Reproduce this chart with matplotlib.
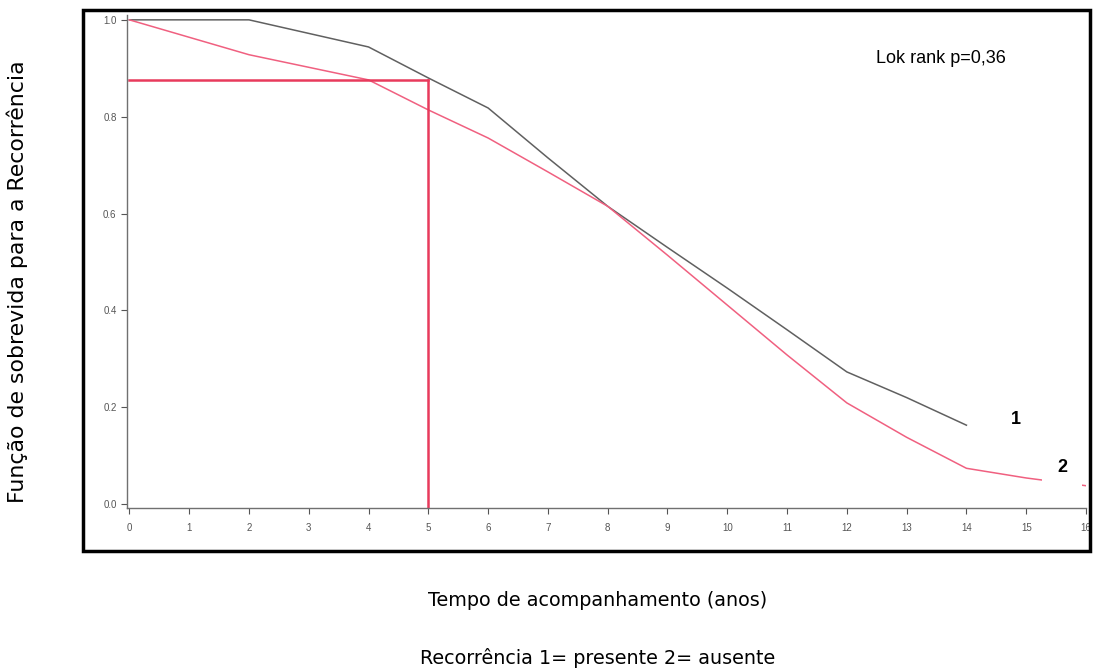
import numpy as np
import matplotlib.pyplot as plt
from matplotlib.patches import Rectangle

plt.rcParams['font.family'] = ['Liberation Sans', 'DejaVu Sans']

# Dados
tempo1 = [0, 2, 4, 5, 6, 7, 8, 9, 10, 11, 12, 13, 14]
sobrev1 = [1.0, 1.0, 0.944, 0.88, 0.818, 0.715, 0.615, 0.53, 0.446, 0.36, 0.273, 0.22, 0.163]

tempo2 = [0, 2, 4, 5, 6, 7, 8, 9, 10, 11, 12, 13, 14, 15, 16]
sobrev2 = [1.0, 0.928, 0.876, 0.814, 0.756, 0.686, 0.615, 0.514, 0.411, 0.308, 0.209, 0.138, 0.074, 0.054, 0.038]

mediana_x = 5
mediana_y = 0.875

xticks = np.arange(0, 17)
yticks = [0.0, 0.2, 0.4, 0.6, 0.8, 1.0]

fig = plt.figure(figsize=(10.96, 6.68), dpi=100)
ax = fig.add_axes([127/1096, 160/668, (1086-127)/1096, (508-15)/668])

cinza = '#707070'
vermelho = '#e83a5c'

ax.plot(tempo1, sobrev1, color='#606060', lw=1.1)
ax.plot(tempo2, sobrev2, color='#f06080', lw=1.1)

# linhas de referência
ax.plot([0, mediana_x], [mediana_y, mediana_y], color=vermelho, lw=1.8)
ax.plot([mediana_x, mediana_x], [-0.008, mediana_y], color=vermelho, lw=1.8)

ax.set_xlim(-0.04, 16)
ax.set_ylim(-0.008, 1.01)
ax.set_xticks(xticks)
ax.set_yticks(yticks)
ax.set_yticklabels(['%.1f' % v for v in yticks])
ax.tick_params(colors='#555555', labelsize=7, length=4, width=0.8)
ax.tick_params(axis='x', pad=7)
for s in ['top', 'right']:
    ax.spines[s].set_visible(False)
for s in ['left', 'bottom']:
    ax.spines[s].set_color(cinza)
    ax.spines[s].set_linewidth(1.0)

ax.text(14.82, 0.175, '1', fontsize=13, fontweight='bold', ha='center', va='center')
ax.text(15.6, 0.076, '2', fontsize=13, fontweight='bold', ha='center', va='center',
        bbox=dict(facecolor='white', edgecolor='none', pad=11))
ax.text(13.58, 0.921, 'Lok rank p=0,36', fontsize=13, ha='center', va='center')

# moldura externa
fig.patches.append(Rectangle((83/1096, (668-551)/668), (1090-83)/1096, (551-10)/668,
                             transform=fig.transFigure, fill=False, edgecolor='black',
                             lw=2.5, zorder=10))

fig.text(598/1096, 1 - 600/668, 'Tempo de acompanhamento (anos)', fontsize=13.8,
         family='DejaVu Sans', ha='center', va='center')
fig.text(598/1096, 1 - 658/668, 'Recorrência 1= presente 2= ausente', fontsize=13.8,
         family='DejaVu Sans', ha='center', va='center')
fig.text(17/1096, 1 - 282/668, 'Função de sobrevida para a Recorrência', fontsize=15.8,
         family='DejaVu Sans', ha='center', va='center', rotation=90)

fig.savefig('out.png', dpi=100)
